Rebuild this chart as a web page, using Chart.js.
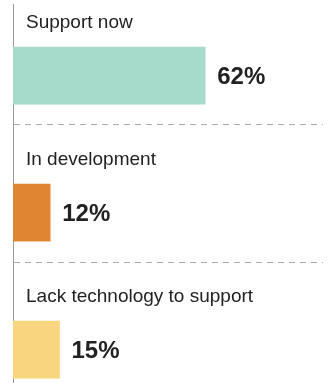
<!DOCTYPE html>
<html lang="en">
<head>
    <meta charset="UTF-8">
    <title>Support status</title>
    <script src="https://cdn.jsdelivr.net/npm/chart.js"></script>
    <style>
        html, body { margin: 0; padding: 0; background: #fff; }
        #wrap { width: 332px; height: 383px; position: relative; }
    </style>
</head>
<body>
<div id="wrap"><canvas id="chart"></canvas></div>
<script>
// data
const categories = ["Support now", "In development", "Lack technology to support"];
const values = [62, 12, 15];
const barColors = ["#a6dacb", "#e08632", "#f9d57e"];

// each row is one unit on the y axis, bar sits in the lower part of the row
const rowOffset = 0.64;

const rowLabels = {
    id: "rowLabels",
    afterDatasetsDraw(chart) {
        const ctx = chart.ctx;
        const meta = chart.getDatasetMeta(0);
        ctx.save();
        ctx.fillStyle = "#222";
        meta.data.forEach((bar, i) => {
            const half = bar.height / 2;
            // category name above the bar
            ctx.font = "19px 'Liberation Sans', Arial, sans-serif";
            ctx.textAlign = "left";
            ctx.textBaseline = "alphabetic";
            ctx.fillText(categories[i], chart.chartArea.left + 13, bar.y - half - 19);
            // value to the right of the bar
            ctx.font = "bold 24px 'Liberation Sans', Arial, sans-serif";
            ctx.fillText(values[i] + "%", bar.x + 12, bar.y + 8);
        });
        ctx.restore();
    }
};

new Chart(document.getElementById("chart"), {
    type: "bar",
    data: {
        datasets: [{
            data: values.map((v, i) => ({ x: v, y: i + rowOffset })),
            backgroundColor: barColors,
            borderWidth: 0,
            barThickness: 57
        }]
    },
    options: {
        indexAxis: "y",
        responsive: true,
        maintainAspectRatio: false,
        animation: false,
        layout: { padding: { left: 13, top: 4, right: 9, bottom: 0 } },
        plugins: { legend: { display: false }, tooltip: { enabled: false } },
        scales: {
            x: {
                type: "linear",
                display: false,
                min: 0,
                max: 100
            },
            y: {
                type: "linear",
                reverse: true,
                min: 0.117,
                max: 2.883,
                offset: false,
                ticks: { display: false, stepSize: 1, includeBounds: false },
                grid: { color: "#aaa", lineWidth: 1, drawTicks: false, offset: false },
                border: { display: true, color: "#999", width: 1, dash: [6, 5] }
            }
        }
    },
    plugins: [rowLabels]
});
</script>
</body>
</html>
